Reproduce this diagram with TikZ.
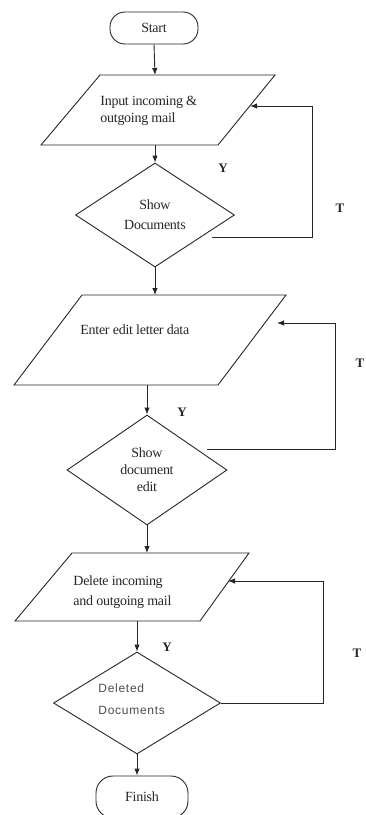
\documentclass[tikz,border=0pt]{standalone}
\usepackage{fontspec}
\setmainfont{Liberation Serif}[LetterSpace=-2]
\newfontfamily\delfont{Liberation Sans}[LetterSpace=6]
\usetikzlibrary{shapes.geometric,arrows.meta}
\begin{document}
\begin{tikzpicture}[x=1pt,y=-1pt,
  line width=0.9pt, draw=black!85,
  every node/.style={font=\fontsize{14}{17}\selectfont, text=black!85},
  term/.style={draw,rectangle,rounded corners=15pt,inner sep=0pt},
  dec/.style={draw,diamond,inner sep=0pt,align=center},
  txt/.style={align=left,inner sep=0pt,anchor=west},
  yn/.style={font=\fontsize{13}{16}\selectfont\bfseries},
  arr/.style={-{Latex[length=7pt,width=5.5pt]}}]
\useasboundingbox (0,0) rectangle (366,815);

% Start
\node[term,minimum width=88pt,minimum height=32pt] (start) at (154,28) {Start};

% Parallelogram 1
\coordinate (p1a) at (100,75);
\coordinate (p1b) at (275,75);
\coordinate (p1c) at (218,145);
\coordinate (p1d) at (41,145);
\draw (p1a) -- (p1b) -- (p1c) -- (p1d) -- cycle;
\node[txt] (p1txt) at (100,111) {Input incoming \&\\outgoing mail};
\coordinate (p1top) at (155,75);
\coordinate (p1bot) at (155,145);
\coordinate (p1in) at (250,106);

% Diamond 1
\node[dec,minimum width=159pt,minimum height=104pt,font=\fontsize{14}{20}\selectfont] (d1) at (155,215) {Show\\Documents};
\coordinate (l1s) at (212,237);

% Parallelogram 2
\coordinate (p2a) at (82,295);
\coordinate (p2b) at (286,295);
\coordinate (p2c) at (218,385);
\coordinate (p2d) at (14,385);
\draw (p2a) -- (p2b) -- (p2c) -- (p2d) -- cycle;
\node[txt] (p2txt) at (80,330) {Enter edit letter data};
\coordinate (p2top) at (155,295);
\coordinate (p2bot) at (147,385);
\coordinate (p2in) at (277,323);

% Diamond 2
\node[dec,minimum width=160pt,minimum height=110pt] (d2) at (147,470) {Show\\document\\edit};
\coordinate (l2s) at (207,449);

% Parallelogram 3
\coordinate (p3a) at (72,553);
\coordinate (p3b) at (249,553);
\coordinate (p3c) at (200,621);
\coordinate (p3d) at (15,621);
\draw (p3a) -- (p3b) -- (p3c) -- (p3d) -- cycle;
\node[txt,font=\fontsize{14}{20}\selectfont] (p3txt) at (73,592) {Delete incoming\\and outgoing mail};
\coordinate (p3top) at (147,553);
\coordinate (p3bot) at (137,621);
\coordinate (p3in) at (228,581);

% Diamond 3
\node[dec,minimum width=167pt,minimum height=102pt] (d3) at (137,703) {};
\node[txt,font=\delfont\fontsize{12}{22}\selectfont,text=black!70] (d3txt) at (98,699) {Deleted\\Documents};

% Finish
\node[term,minimum width=92pt,minimum height=42pt,rounded corners=17pt] (finish) at (142,797) {Finish};

% Main flow
\draw[arr] (start.south) -- (p1top);
\draw[arr] (p1bot) -- (d1.north);
\draw[arr] (d1.south) -- (p2top);
\draw[arr] (p2bot) -- (d2.north);
\draw[arr] (d2.south) -- (p3top);
\draw[arr] (p3bot) -- (d3.north);
\draw[arr] (d3.south) -- (d3.south |- finish.north);

% Loops
\draw[arr] (l1s) -- ++(100,0) |- (p1in);
\draw[arr] (l2s) -- ++(128,0) |- (p2in);
\draw[arr] (d3.east) -- ++(102,0) |- (p3in);

% Labels
\node[yn] (y1) at (223,168) {Y};
\node[yn] (t1) at (340,208) {T};
\node[yn] (y2) at (182,412) {Y};
\node[yn] (t2) at (360,363) {T};
\node[yn] (y3) at (167,647) {Y};
\node[yn] (t3) at (357,653) {T};
\end{tikzpicture}
\end{document}
